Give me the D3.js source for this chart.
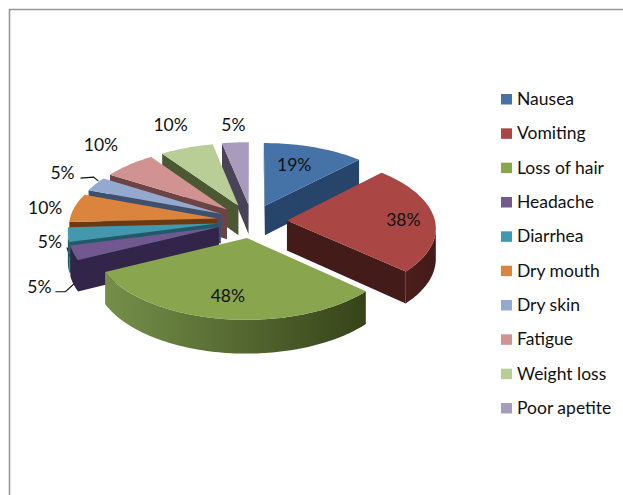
<!DOCTYPE html>
<html>
<head>
<meta charset="utf-8">
<script src="https://cdn.jsdelivr.net/npm/d3@7"></script>
<style>
  html, body { margin: 0; padding: 0; background: #fff; }
  svg { display: block; }
  text { font-family: Lato, "Open Sans", sans-serif; fill: #111; }
</style>
</head>
<body>
<div id="chart"></div>
<script>
// chart values
var categories = ["Nausea", "Vomiting", "Loss of hair", "Headache", "Diarrhea", "Dry mouth", "Dry skin", "Fatigue", "Weight loss", "Poor apetite"];
var values = [19, 38, 48, 5, 5, 10, 5, 10, 10, 5];

var topColors = ["#4572a7", "#aa4643", "#89a54e", "#71588f", "#4198af", "#db843d", "#93a9cf", "#d19392", "#b9cd96", "#a99bbd"];
var wallLight = ["#27446a", "#4c1d1b", "#75904a", "#33254a", "#1f5a6b", "#6b3a14", "#3e506e", "#6b4443", "#4c5734", "#4a4358"];
var wallDark = ["#27446a", "#431b19", "#364318", "#33254a", "#1f5a6b", "#6b3a14", "#3e506e", "#6b4443", "#4c5734", "#4a4358"];

// label offset from the middle of each slice's rim
var labelOffset = [[-20, 17], [-31, 1], [5, -23], [-34, 34], [-18, 7], [-29, 0], [-33, -12], [-28, -20], [-16, -23], [-2, -18]];

// leader lines, also relative to the rim
var leaders = [
    {slice: 3, line: [[-18, 39], [-8, 39], [3, 29]]},
    {slice: 4, line: [[-1, 13], [4, 28]]},
    {slice: 6, line: [[-15, -6], [-2, -7], [3, -3]]}
];

var width = 623, height = 495;

// pie geometry
var cx = 252, cy = 221;
var radius = 148;
var explode = 35;
var tilt = 0.48;
var depth = 30;
var focal = 1620;

var svg = d3.select("#chart")
    .append("svg")
    .attr("width", width)
    .attr("height", height);

var defs = svg.append("defs");

// frame
svg.append("path")
    .attr("d", "M623,9.5H9.5V495")
    .attr("fill", "none")
    .attr("stroke", "#969696")
    .attr("stroke-width", 1.6);

var slices = d3.pie().sort(null)(values).map(function(d, i) {
    d.i = i;
    d.mid = (d.startAngle + d.endAngle) / 2;
    return d;
});

// plane position (angle from north, clockwise) to screen position
function project(angle, r, mid, drop) {
    var X = explode * Math.sin(mid) + r * Math.sin(angle);
    var Y = -explode * Math.cos(mid) - r * Math.cos(angle);
    var s = 1 / (1 - Y / focal);
    return [cx + X * s, cy + tilt * Y * s + drop * s];
}

function rimPoints(d, drop) {
    var n = Math.max(4, Math.ceil((d.endAngle - d.startAngle) * 40));
    return d3.range(n + 1).map(function(k) {
        return project(d.startAngle + (d.endAngle - d.startAngle) * k / n, radius, d.mid, drop);
    });
}

var polygon = d3.line().curve(d3.curveLinearClosed);

// leaders go under the slices
svg.append("g").selectAll("path")
    .data(leaders)
    .enter()
    .append("path")
    .attr("d", function(l) {
        var rim = project(slices[l.slice].mid, radius, slices[l.slice].mid, 0);
        return d3.line()(l.line.map(function(p) { return [rim[0] + p[0], rim[1] + p[1]]; }));
    })
    .attr("fill", "none")
    .attr("stroke", "#111")
    .attr("stroke-width", 1.1);

// far slices first, front ones over them
var drawOrder = d3.range(9, 2, -1).concat([0, 1, 2]);
var pieGroup = svg.append("g");

drawOrder.forEach(function(i) {
    var d = slices[i];
    var g = pieGroup.append("g");
    var top = rimPoints(d, 0);
    var apex = project(0, 0, d.mid, 0);
    var apexLow = project(0, 0, d.mid, depth);
    var bottom = rimPoints(d, depth);

    // outer wall: only the part of the rim that runs right to left is facing us
    var front = [], frontLow = [];
    top.forEach(function(p, k) {
        var facing = (k < top.length - 1 && top[k + 1][0] < p[0]) || (k > 0 && p[0] < top[k - 1][0]);
        if (facing) {
            front.push(p);
            frontLow.push(bottom[k]);
        }
    });
    if (front.length > 1) {
        var xs = d3.extent(front, function(p) { return p[0]; });
        var grad = defs.append("linearGradient")
            .attr("id", "wall" + i)
            .attr("gradientUnits", "userSpaceOnUse")
            .attr("x1", xs[0]).attr("x2", xs[1])
            .attr("y1", 0).attr("y2", 0);
        grad.append("stop").attr("offset", 0).attr("stop-color", wallLight[i]);
        grad.append("stop").attr("offset", 1).attr("stop-color", wallDark[i]);
        g.append("path")
            .attr("d", polygon(front.concat(frontLow.slice().reverse())))
            .attr("fill", "url(#wall" + i + ")");
    }

    // radial walls
    var first = top[0], last = top[top.length - 1];
    if (first[0] < apex[0]) {
        g.append("path")
            .attr("d", polygon([apex, first, bottom[0], apexLow]))
            .attr("fill", wallDark[i]);
    }
    if (last[0] > apex[0]) {
        g.append("path")
            .attr("d", polygon([apex, last, bottom[bottom.length - 1], apexLow]))
            .attr("fill", wallDark[i]);
    }

    g.append("path")
        .attr("d", polygon([apex].concat(top)))
        .attr("fill", topColors[i]);
});

// data labels
svg.append("g").selectAll("text")
    .data(slices)
    .enter()
    .append("text")
    .attr("x", function(d) { return project(d.mid, radius, d.mid, 0)[0] + labelOffset[d.i][0]; })
    .attr("y", function(d) { return project(d.mid, radius, d.mid, 0)[1] + labelOffset[d.i][1]; })
    .attr("text-anchor", "middle")
    .attr("dominant-baseline", "central")
    .attr("font-size", 17.5)
    .text(function(d) { return d.value + "%"; });

// legend
var legendY = d3.scalePoint()
    .domain(categories)
    .range([98.5, 407.5]);

var legend = svg.append("g").selectAll("g")
    .data(categories)
    .enter()
    .append("g")
    .attr("transform", function(d) { return "translate(501," + legendY(d) + ")"; });

legend.append("rect")
    .attr("x", 0)
    .attr("y", -4.5)
    .attr("width", 11)
    .attr("height", 10.5)
    .attr("fill", function(d, i) { return topColors[i]; });

legend.append("text")
    .attr("x", 16)
    .attr("y", 0)
    .attr("dominant-baseline", "central")
    .attr("font-size", 17.5)
    .text(function(d) { return d; });
</script>
</body>
</html>
